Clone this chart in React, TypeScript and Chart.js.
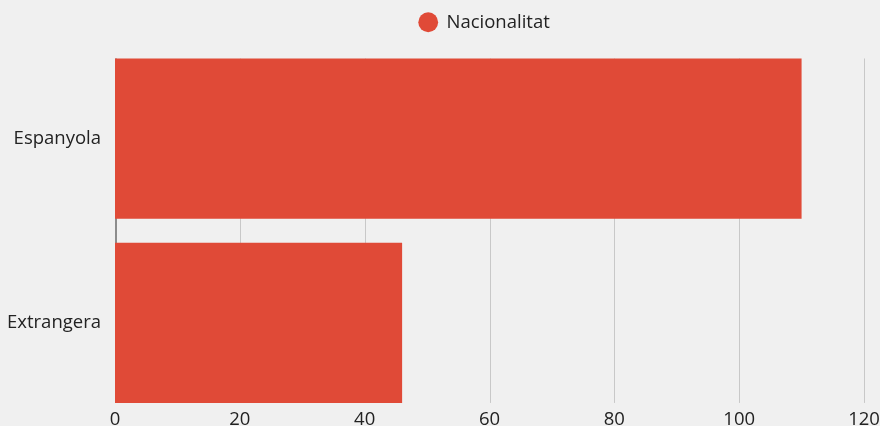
import React, { useEffect, useRef } from "react";
import { Chart, registerables } from "chart.js";

Chart.register(...registerables);

const categories = ["Espanyola", "Extrangera"];
const seriesLabel = "Nacionalitat";
const seriesValues = [110, 46];
const xTicks = [0, 20, 40, 60, 80, 100, 120];

const FONT = "'Open Sans', sans-serif";
const FS = 18.5;
const BAR = "#e04a37";
const BG = "#f0f0f0";

const gridPlugin = {
  id: "barGrid",
  afterInit(chart: any) {
    const lg = chart.legend;
    if (lg && !lg.__patched) {
      const origFit = lg.fit;
      lg.fit = function (this: any) {
        origFit.call(this);
        this.height += 5;
      };
      const origDraw = lg.draw;
      lg.draw = function (this: any, ...args: any[]) {
        this.ctx.save();
        this.ctx.translate(-5, 0);
        origDraw.apply(this, args);
        this.ctx.restore();
      };
      lg.__patched = true;
    }
  },
  beforeDatasetsDraw(chart: any) {
    const { ctx, scales } = chart;
    const x = scales.x;
    const meta = chart.getDatasetMeta(0);
    const els = meta.data as any[];
    if (!els.length) return;
    const first = els[0];
    const last = els[els.length - 1];
    const top = first.y - first.height / 2;
    const bottom = last.y + last.height / 2;
    ctx.save();
    x.ticks.forEach((t: any) => {
      const isZero = t.value === 0;
      const px = isZero
        ? Math.round(x.getPixelForValue(t.value)) + 1
        : Math.round(x.getPixelForValue(t.value)) + 0.5;
      ctx.lineWidth = isZero ? 2 : 1;
      ctx.strokeStyle = isZero ? "#8c8c8c" : "#c8c8c8";
      ctx.beginPath();
      ctx.moveTo(px, top);
      ctx.lineTo(px, bottom);
      ctx.stroke();
    });
    ctx.restore();
  },
};

export default function App() {
  const ref = useRef<HTMLCanvasElement | null>(null);
  useEffect(() => {
    document.body.style.margin = "0";
    document.body.style.background = BG;
    const chart = new Chart(ref.current!, {
      type: "bar",
      data: {
        labels: categories,
        datasets: [
          {
            label: seriesLabel,
            data: seriesValues,
            backgroundColor: BAR,
            borderWidth: 0,
            barPercentage: 0.87,
            categoryPercentage: 1,
          },
        ],
      },
      options: {
        indexAxis: "y",
        animation: false,
        responsive: false,
        maintainAspectRatio: false,
        layout: { padding: { top: 1, right: 16, left: 0, bottom: 0 } },
        plugins: {
          legend: {
            fullSize: false,
            labels: {
              usePointStyle: true,
              pointStyle: "circle",
              boxWidth: 18,
              boxHeight: 14,
              color: "#222",
              font: { family: FONT, size: FS },
              padding: 12,
            },
          },
          tooltip: { enabled: false },
        },
        scales: {
          x: {
            min: 0,
            max: 120,
            afterBuildTicks: (s: any) => {
              s.ticks = xTicks.map((v) => ({ value: v }));
              s._computeLabelArea = () => undefined;
            },
            grid: { display: false, drawTicks: false },
            border: { display: false },
            ticks: {
              color: "#222",
              font: { family: FONT, size: FS },
              padding: -6.5,
              maxRotation: 0,
            },
          },
          y: {
            afterFit: (s: any) => {
              s.width = 115;
            },
            grid: { display: false, drawTicks: false },
            border: { display: false },
            ticks: {
              color: "#222",
              font: { family: FONT, size: FS },
              padding: 14,
            },
          },
        },
      },
      plugins: [gridPlugin],
    });
    return () => chart.destroy();
  }, []);
  return (
    <div style={{ width: 880, height: 426, overflow: "hidden", background: BG }}>
      <canvas ref={ref} width={880} height={440} style={{ display: "block" }} />
    </div>
  );
}
